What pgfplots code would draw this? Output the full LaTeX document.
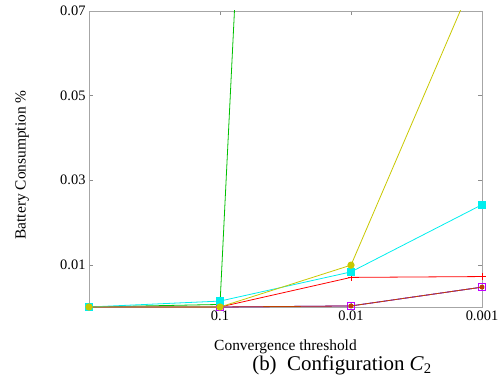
\documentclass[border=0pt]{standalone}
\usepackage{pgfplots}
\pgfplotsset{compat=1.18}
\usepackage{fontspec}
\setmainfont{Liberation Serif}
\definecolor{gred}{HTML}{FF0000}
\definecolor{ggreen}{HTML}{00C000}
\definecolor{gblue}{HTML}{0080FF}
\definecolor{gmag}{HTML}{C000FF}
\definecolor{gcyan}{HTML}{00EEEE}
\definecolor{gbrown}{HTML}{C04000}
\definecolor{gyellow}{HTML}{C8C800}
\begin{document}
\begin{tikzpicture}
\useasboundingbox (-89bp,-77bp) rectangle (414bp,307bp);
\begin{axis}[
  at={(0,0)}, anchor=south west,
  width=393bp, height=296bp, scale only axis,
  xmin=0, xmax=3, ymin=0, ymax=0.07,
  xtick={1,2,3}, xticklabels={0.1,0.01,0.001},
  ytick={0.01,0.03,0.05,0.07}, yticklabels={0.01,0.03,0.05,0.07},
  scaled y ticks=false,
  /pgf/number format/assume math mode=true,
  tick align=inside,
  major tick length=4bp,
  axis line style={black!35},
  major tick style={black!45},
  tick label style={font=\fontsize{14.5}{16}\selectfont},
  xlabel={Convergence threshold},
  ylabel={Battery Consumption \%},
  label style={font=\fontsize{15.5}{18}\selectfont},
  x label style={at={(axis description cs:0.5,-0.135)}, anchor=center},
  y label style={at={(axis description cs:-0.17,0.48)}, anchor=center},
  clip mode=individual,
  every axis plot/.append style={line width=0.8bp},
]
\addplot[gred, mark=+, mark size=3.5bp] coordinates {(0,0)(1,0)(2,0.0070)(3,0.0072)};
\addplot[ggreen, mark=x, mark size=3bp] coordinates {(0,0)(1,0.0006)(2,0.63)(3,0.9)};
\addplot[gblue, mark=asterisk, mark size=2.5bp] coordinates {(0,0)(1,0)(2,0.00025)(3,0.0047)};
\addplot[gmag, mark=square, mark size=3.5bp] coordinates {(0,0)(1,0)(2,0.00025)(3,0.0047)};
\addplot[gcyan, mark=square*, mark size=3.5bp] coordinates {(0,0)(1,0.0014)(2,0.0083)(3,0.0242)};
\addplot[gbrown, mark=*, mark size=2bp] coordinates {(0,0)(1,0)(2,0.00025)(3,0.0047)};
\addplot[gyellow, mark=*, mark size=3.2bp] coordinates {(0,0)(1,0)(2,0.0099)(3,0.082)};
\end{axis}
\node[font=\fontsize{21}{24}\selectfont, anchor=center] at (253bp,-58bp) {(b)\ \ Configuration \textit{C}\textsubscript{2}};
\end{tikzpicture}
\end{document}
